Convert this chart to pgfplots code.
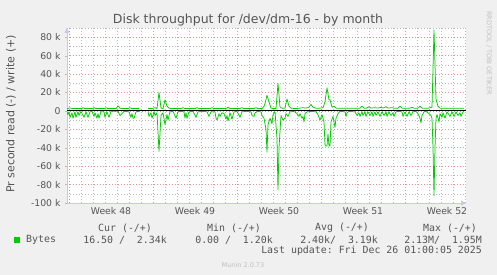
\documentclass[border=0pt]{standalone}
\usepackage{pgfplots}
\pgfplotsset{compat=1.18}
\usepackage{fontspec}
\setmainfont{DejaVu Sans}
\setmonofont{DejaVu Sans Mono}
\usetikzlibrary{arrows.meta}
\definecolor{bg}{HTML}{F0F0F0}
\definecolor{txt}{HTML}{555555}
\definecolor{light}{HTML}{C0C0C0}
\definecolor{grn}{HTML}{00CC00}
\definecolor{axblue}{HTML}{C8C8EC}
\definecolor{mgrid}{HTML}{E09090}
\definecolor{ngrid}{HTML}{B8B8B8}

% write (+) in k, x in image pixels
\pgfplotstableread{
x y
67 2.5
70 3.2
73 2.5
82 2.5
83 3.5
85 2.5
93 2.5
94 3.5
96 2.5
105 2.5
106 3.5
108 2.5
116 2.5
118 5.5
120 3
122 2.5
128 2.5
130 3.5
132 2.5
139 2.5
140 nan
147 nan
148 2.5
152 2.5
155 3.5
157 2.5
159 20
161 3
163 2.5
165 12
167 5
169 3
172 2.5
181 2.5
183 3.5
185 2.5
195 2.5
197 3.5
199 2.5
210 2.5
212 3.5
214 2.5
226 2.5
228 4
230 2.5
240 2.5
242 3.5
244 2.5
254 2.5
256 3.5
258 2.5
262 2.5
264 5
265 8
267 17
269 10
271 3
273 2.5
276 2.5
278 30
280 4
282 3
285 3
287 13
289 5
291 3
295 2.5
300 3
303 3.5
306 3
309 4
311 7
313 4
316 3
320 3
323 3.5
325 10
327 25
329 12
330 12
332 4
334 5
336 3
340 3
345 3
350 3
355 3
360 3
362 5
364 3
366 3
369 4.5
371 3
375 3.5
378 3
381 4
383 3
386 4.5
388 3
392 3.5
394 3
398 3
400 5
402 3
405 3
410 3
412 4
414 3
418 3
420 5
422 3
425 3
428 3
430 3.5
432 4
434 88
436 13
438 5
440 3
445 3
450 3
455 3
460 3
464 3
}\writedata

% read (-) in k
\pgfplotstableread{
x y
67 -1
68 -4
69 -1
70 -7
72 -2
73 -8
75 -1
76 -7
78 -1
79 -5
81 -0.5
84 -7
86 -1
88 -7
90 -1
92 -0.5
94 -6
95 -2
97 -8
98 -3
99 -8
101 -1
104 -1
105 -7
107 -1
109 -7
111 -0.5
118 -0.5
120 -5
122 -3
124 -0.5
129 -1
131 -7
132 -3
133 -8
134 -8
136 -1
139 -0.5
140 nan
147 nan
148 -1
149 -6
151 -2
152 -8
154 -1
155 -5
157 -2
159 -44
161 -5
163 -2
165 -15
167 -4
168 -10
170 -1
173 -0.5
176 -8
178 -1
181 -0.5
184 -1
185 -8
186 -2
187 -8
189 -1
193 -0.5
196 -7
198 -1
203 -0.5
207 -1
209 -6
211 -1
215 -1
216 -8
217 -10
219 -3
220 -6
222 -2
224 -3
226 -9
227 -5
228 -11
230 -2
232 -9
234 -1
237 -0.5
240 -7
242 -1
246 -0.5
251 -1
252 -5
254 -6
255 -2
258 -0.5
261 -1
262 -5
264 -8
266 -20
267 -45
268 -15
270 -8
272 -14
273 -4
275 -1
277 -30
278 -86
279 -40
281 -5
283 -10
285 -8
286 -3
288 -6
290 -1
294 -0.5
297 -3
299 -6
300 -3
302 -8
303 -6
304 -12
305 -3
307 -1
312 -0.5
316 -1
318 -4
320 -10
322 -4
324 -12
325 -37
326 -38
327 -38
328 -25
329 -38
330 -38
331 -12
333 -6
335 -18
336 -8
338 -3
340 -0.5
345 -1
346 -6
347 -2
349 -0.5
355 -1
357 -5
359 -2
360 -6
362 -1
363 -5
365 -1
366 -6
368 -1
370 -5
372 -1
373 -6
375 -1
376 -5
378 -1
380 -6
382 -1
384 -5
386 -1
387 -6
389 -1
391 -5
393 -2
394 -6
396 -1
398 -0.5
402 -1
403 -6
405 -1
407 -6
409 -1
411 -5
413 -1
416 -0.5
418 -3
420 -8
421 -13
422 -5
424 -1
426 -0.5
429 -3
431 -5
432 -8
433 -40
434 -92
435 -40
436 -8
437 -4
439 -12
440 -3
442 -7
443 -2
445 -8
447 -1
450 -6
452 -1
454 -6
456 -1
458 -5
460 -2
461 -6
463 -1
464 -0.5
}\readdata

\begin{document}
\begin{tikzpicture}[x=1pt,y=1pt]
\useasboundingbox (0,0) rectangle (497,275);
\fill[bg] (0,0) rectangle (497,275);
\begin{axis}[
  at={(67pt,72pt)}, anchor=south west,
  scale only axis, width=399pt, height=175pt,
  xmin=67, xmax=466, ymin=-100, ymax=90,
  axis background/.style={fill=white},
  axis x line=bottom, axis y line=left,
  axis line style={draw=axblue, line width=0.8pt, -{Triangle[length=5pt,width=5pt]}},
  unbounded coords=jump,
  xtick={111,195,279,363,447},
  xticklabels={Week 48,Week 49,Week 50,Week 51,Week 52},
  xtick style={draw=none},
  minor xtick={81,93,105,117,129,141,165,177,189,201,213,225,249,261,273,285,297,309,333,345,357,369,381,393,417,429,441,453,465},
  xminorgrids=true,
  extra x ticks={69,153,237,321,405},
  extra x tick labels={},
  extra x tick style={grid=major, major grid style={mgrid, line width=0.5pt, dash pattern=on 1pt off 2pt}, tick style={draw=mgrid}, major tick length=3pt},
  ytick={-100,-80,-60,-40,-20,0,20,40,60,80},
  yticklabels={-100 k,-80 k,-60 k,-40 k,-20 k,0,20 k,40 k,60 k,80 k},
  minor ytick={-90,-70,-50,-30,-10,10,30,50,70,90},
  ymajorgrids=true, yminorgrids=true,
  major grid style={mgrid, line width=0.5pt, dash pattern=on 1pt off 2pt},
  minor grid style={ngrid, line width=0.5pt, dash pattern=on 1pt off 2pt},
  ytick style={draw=ngrid}, major tick length=2pt, minor tick length=0pt,
  tick align=outside,
  tick label style={font=\fontsize{9.3}{11}\selectfont, text=txt},
  xticklabel style={yshift=1pt},
  yticklabel style={xshift=-1pt},
]
\addplot[grn, line width=0.75pt, line join=round] table[x=x,y=y] {\writedata};
\addplot[grn, line width=0.75pt, line join=round] table[x=x,y=y] {\readdata};
\addplot[black, line width=1.2pt] coordinates {(67,0) (466,0)};
\end{axis}
\node[text=txt, font=\fontsize{12.5}{14}\selectfont] at (248,255) {Disk throughput for /dev/dm-16 - by month};
\node[text=txt, rotate=90, font=\fontsize{11}{13}\selectfont] at (11,161) {Pr second read (-) / write (+)};
\node[text=light, rotate=-90, font=\fontsize{6.5}{8}\selectfont] at (489,222) {RRDTOOL / TOBI OETIKER};
\begin{scope}[every node/.style={text=txt, font=\ttfamily\fontsize{9.9}{12}\selectfont, inner sep=0pt}]
\node[anchor=west] at (98,47) {Cur (-/+)};
\node[anchor=west] at (207,47) {Min (-/+)};
\node[anchor=west] at (315,47) {Avg (-/+)};
\node[anchor=west] at (423,47) {Max (-/+)};
\node[anchor=west] at (26,35) {Bytes};
\node[anchor=east] at (167,35) {16.50 /\ \ 2.34k};
\node[anchor=east] at (273,35) {0.00 /\ \ 1.20k};
\node[anchor=east] at (378,35) {2.40k/\ \ 3.19k};
\node[anchor=east] at (482,35) {2.13M/\ \ 1.95M};
\node[anchor=east] at (482,24) {Last update: Fri Dec 26 01:00:05 2025};
\end{scope}
\fill[grn] (14,32) rectangle (20,38);
\node[text=light, font=\fontsize{6.5}{8}\selectfont] at (243,10) {Munin 2.0.73};
\end{tikzpicture}
\end{document}
